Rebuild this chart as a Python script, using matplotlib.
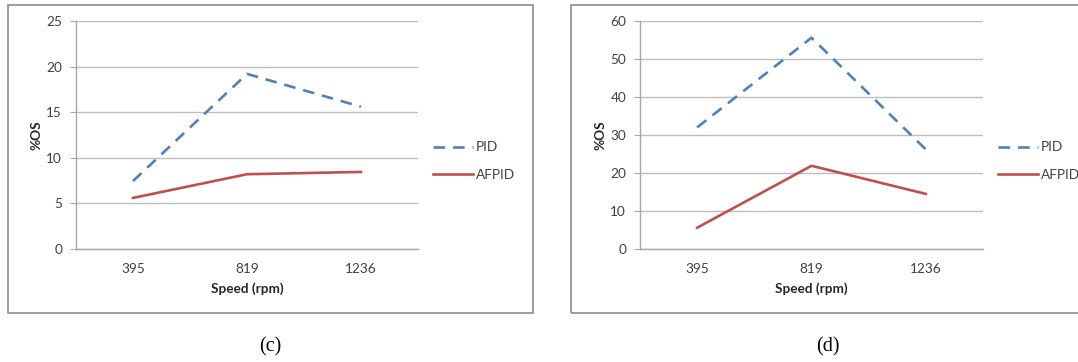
import matplotlib
matplotlib.use("Agg")
import matplotlib.pyplot as plt
from matplotlib.patches import Rectangle

# Overshoot (%OS) of PID vs AFPID controllers at three motor speeds
speeds = ["395", "819", "1236"]

pid_c = [7.45, 19.2, 15.6]
afpid_c = [5.6, 8.2, 8.45]

pid_d = [32.0, 55.6, 26.2]
afpid_d = [5.6, 21.9, 14.5]

PID_COLOR = "#4F81BD"
AFPID_COLOR = "#C0504D"
GRID = "#BDBDBD"
FONT = "Lato"
FS = 9.8

W, H = 1078, 362
fig = plt.figure(figsize=(W / 100, H / 100), dpi=100)


def px_box(x0, y0, x1, y1):
    """Pixel box (top-left origin) -> figure fraction rect."""
    return [x0 / W, 1 - y1 / H, (x1 - x0) / W, (y1 - y0) / H]


def panel(rect, pid, afpid, ymax, ystep, caption, cap_x, frame):
    fx0, fy0, fx1, fy1 = frame
    fig.patches.append(Rectangle((fx0 / W, 1 - fy1 / H), (fx1 - fx0) / W,
                                 (fy1 - fy0) / H, transform=fig.transFigure,
                                 fill=False, edgecolor="#8C8C8C", lw=1.2))
    ax = fig.add_axes(rect)
    x = list(range(len(speeds)))
    ax.plot(x, pid, color=PID_COLOR, lw=1.9, ls="--", dashes=(4.4, 3.0),
            label="PID")
    ax.plot(x, afpid, color=AFPID_COLOR, lw=1.9, label="AFPID")
    ax.set_xlim(-0.5, len(speeds) - 0.5)
    ax.set_ylim(0, ymax)
    ax.set_yticks(range(0, ymax + 1, ystep))
    ax.set_xticks(x)
    ax.set_xticklabels(speeds)
    ax.grid(axis="y", color=GRID, lw=1.0)
    ax.set_axisbelow(True)
    for s in ("top", "right"):
        ax.spines[s].set_visible(False)
    for s in ("left", "bottom"):
        ax.spines[s].set_color("#A6A6A6")
        ax.spines[s].set_linewidth(1.0)
    ax.tick_params(axis="y", length=4, color="#A6A6A6", labelsize=FS,
                   labelcolor="#404040", pad=6)
    ax.tick_params(axis="x", length=0, labelsize=FS, labelcolor="#404040",
                   pad=10)
    for lab in ax.get_xticklabels() + ax.get_yticklabels():
        lab.set_family(FONT)
    ax.set_xlabel("Speed (rpm)", fontsize=FS, fontweight="bold",
                  family=FONT, color="#262626", labelpad=5)
    ax.set_ylabel("%OS", fontsize=FS, fontweight="bold", family=FONT,
                  color="#262626", labelpad=3)
    ax.legend(loc="center left", bbox_to_anchor=(1.045, 0.385), frameon=False,
              borderpad=0, borderaxespad=0, handlelength=2.9,
              handletextpad=0.22, labelspacing=1.15,
              prop={"family": FONT, "size": FS}, labelcolor="#404040")
    fig.text(cap_x / W, 1 - 347 / H, caption, ha="center", va="center",
             fontsize=14.5, family="Liberation Serif")
    return ax


panel(px_box(76, 21, 418, 249), pid_c, afpid_c, 25, 5, "(c)", 270,
      (8, 5, 533, 313))
panel(px_box(640, 21, 983, 249), pid_d, afpid_d, 60, 10, "(d)", 828,
      (571, 5, 1085, 313))

fig.savefig("out.png", dpi=100)
